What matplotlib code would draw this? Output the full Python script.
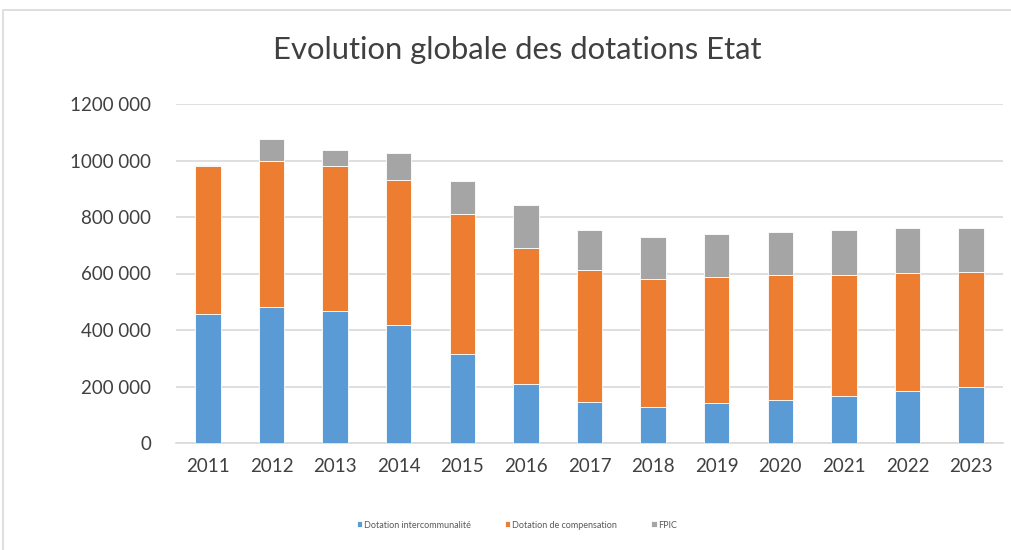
import matplotlib
matplotlib.use("Agg")
import matplotlib.pyplot as plt
from matplotlib.patches import Rectangle
import numpy as np

years = ["2011", "2012", "2013", "2014", "2015", "2016", "2017", "2018", "2019", "2020", "2021", "2022", "2023"]
dotation_interco = [455000, 480000, 468000, 416000, 316000, 208000, 146000, 126000, 140000, 152000, 166000, 184000, 198000]
dotation_compens = [525000, 518000, 512000, 515000, 495000, 483000, 467000, 455000, 448000, 442000, 428000, 417000, 409000]
fpic = [3000, 77000, 58000, 94000, 118000, 150000, 140000, 147000, 152000, 152000, 159000, 159000, 153000]
series_names = ["Dotation intercommunalité", "Dotation de compensation", "FPIC"]
colors = ["#5B9BD5", "#ED7D31", "#A5A5A5"]
yticks = [0, 200000, 400000, 600000, 800000, 1000000, 1200000]

plt.rcParams['font.family'] = ['Lato', 'DejaVu Sans']

W, H = 1011, 550
fig = plt.figure(figsize=(W / 100, H / 100), dpi=100)
fig.patch.set_facecolor("white")
fig.patches.append(Rectangle((3 / W, -0.01), 1.1, 1 - 10 / H + 0.01, transform=fig.transFigure,
                             fill=False, edgecolor="#D9D9D9", linewidth=1.2))

ax = fig.add_axes([176 / W, 1 - 443 / H, (1003 - 176) / W, (443 - 104) / H])
x = np.arange(len(years))
bw = 0.40
b1 = np.array(dotation_interco)
b2 = np.array(dotation_compens)
b3 = np.array(fpic)
ax.bar(x, b1, bw, color=colors[0], edgecolor="white", linewidth=0.6, label=series_names[0], zorder=3)
ax.bar(x, b2, bw, bottom=b1, color=colors[1], edgecolor="white", linewidth=0.6, label=series_names[1], zorder=3)
ax.bar(x, b3, bw, bottom=b1 + b2, color=colors[2], edgecolor="white", linewidth=0.6, label=series_names[2], zorder=3)

ax.set_xlim(-0.5, len(years) - 0.5)
ax.set_ylim(0, 1200000)
ax.set_yticks(yticks)
ax.set_yticklabels([f"{v // 1000} 000" if v > 0 else "0" for v in yticks])
ax.set_xticks(x)
ax.set_xticklabels(years)
ax.grid(axis="y", color="#D9D9D9", linewidth=1.2, zorder=0)
for s in ["top", "right", "left"]:
    ax.spines[s].set_visible(False)
ax.spines["bottom"].set_color("#D9D9D9")
ax.spines["bottom"].set_linewidth(1.2)
ax.tick_params(axis="both", length=0, labelsize=13.5, colors="#404040")
ax.tick_params(axis="y", pad=18)
ax.tick_params(axis="x", pad=11)

fig.text(517 / W, 1 - 50 / H, "Evolution globale des dotations Etat", ha="center", va="center",
         fontsize=22.3, color="#404040")

leg = fig.legend(loc="center", bbox_to_anchor=(517 / W, 1 - 525 / H), ncol=3, frameon=False,
                 fontsize=6.5, handlelength=0.6, handleheight=0.6, handletextpad=0.2,
                 columnspacing=3.8, labelcolor="#595959")

fig.savefig("out.png", dpi=100, facecolor="white")
